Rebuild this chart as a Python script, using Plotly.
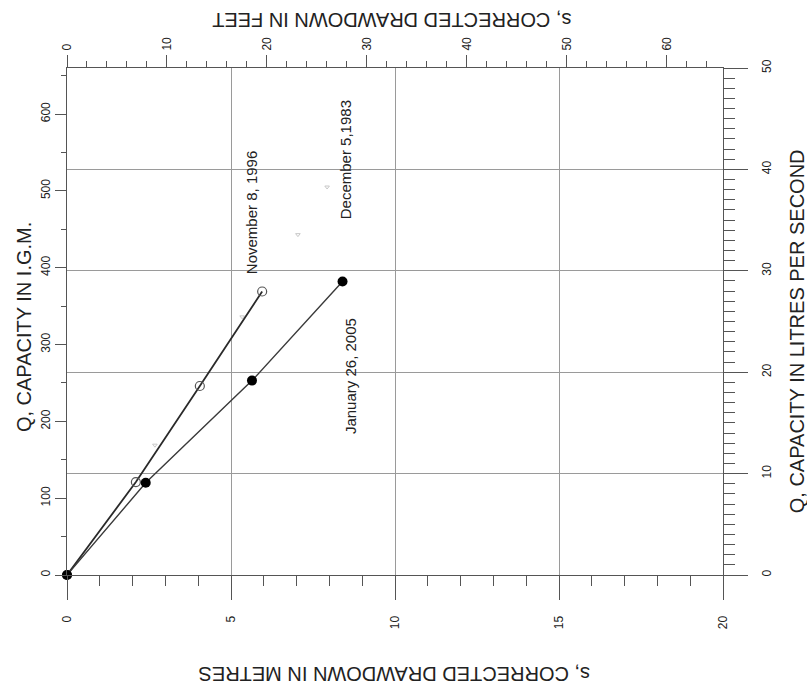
import plotly.graph_objects as go

# ---- data ----
LPS_TO_IGM = 13.1982
M_TO_FT = 3.28084

nov1996_s = [0, 2.1, 4.05, 5.95]
nov1996_q = [0, 121, 246, 369]

jan2005_s = [0, 2.4, 5.64, 8.4]
jan2005_q = [0, 120, 253, 382]

dec1983_s = [2.68, 5.34, 7.04, 7.93]
dec1983_q = [169, 336, 443, 505]

s_max_m = 20
q_max_lps = 50

x_ticks_m = [0, 5, 10, 15, 20]
x_ticks_ft = [0, 10, 20, 30, 40, 50, 60]
y_ticks_igm = [0, 100, 200, 300, 400, 500, 600]
y_ticks_lps = [0, 10, 20, 30, 40, 50]

FONT = "Liberation Sans, Arial, sans-serif"
LINE = "#555555"
GRID = "#9a9a9a"
TXT = "#222222"

fig = go.Figure()

fig.add_trace(go.Scatter(
    x=dec1983_s, y=dec1983_q, mode="markers",
    marker=dict(symbol="triangle-down-open", size=4, color="#c8c8c8", line=dict(width=1)),
    showlegend=False, hoverinfo="skip"))

fig.add_trace(go.Scatter(
    x=nov1996_s, y=nov1996_q, mode="lines+markers", cliponaxis=False,
    line=dict(color="#2a2a2a", width=1.8),
    marker=dict(symbol="circle-open", size=9, color="#555555", line=dict(width=1.2)),
    showlegend=False))

fig.add_trace(go.Scatter(
    x=jan2005_s, y=jan2005_q, mode="lines+markers", cliponaxis=False,
    line=dict(color="#3a3a3a", width=1.4),
    marker=dict(symbol="circle", size=10, color="#000000"),
    showlegend=False))

# invisible trace on the secondary (feet / L/s) axes so they render
fig.add_trace(go.Scatter(
    x=[v * M_TO_FT for v in jan2005_s], y=[v / LPS_TO_IGM for v in jan2005_q],
    xaxis="x2", yaxis="y2", mode="markers", marker=dict(opacity=0),
    showlegend=False, hoverinfo="skip"))

tickfont = dict(family=FONT, size=12, color=TXT)

fig.update_layout(
    width=807, height=692,
    margin=dict(l=67, r=84, t=68, b=117),
    paper_bgcolor="white", plot_bgcolor="white",
    font=dict(family=FONT, color=TXT),
    xaxis=dict(
        range=[0, s_max_m], tickvals=x_ticks_m, ticktext=[str(v) for v in x_ticks_m],
        ticks="outside", ticklen=24, tickcolor=LINE, tickwidth=1,
        tickangle=-90, tickfont=tickfont, ticklabelstandoff=11,
        showline=True, linecolor=LINE, linewidth=1,
        showgrid=True, gridcolor=GRID, gridwidth=1, zeroline=False,
        minor=dict(dtick=1, ticks="outside", ticklen=10, tickcolor=LINE, showgrid=False),
    ),
    xaxis2=dict(
        range=[0, s_max_m * M_TO_FT], overlaying="x", side="top",
        tickvals=x_ticks_ft, ticktext=[str(v) for v in x_ticks_ft],
        ticks="outside", ticklen=12, tickcolor=LINE, tickwidth=1,
        tickangle=-90, tickfont=tickfont, ticklabelstandoff=2,
        showline=True, linecolor=LINE, linewidth=1,
        showgrid=False, zeroline=False,
        minor=dict(dtick=2, ticks="outside", ticklen=6, tickcolor=LINE, showgrid=False),
    ),
    yaxis=dict(
        range=[0, q_max_lps * LPS_TO_IGM], tickvals=y_ticks_igm, ticktext=[str(v) for v in y_ticks_igm],
        ticks="outside", ticklen=11, tickcolor=LINE, tickwidth=1,
        tickangle=-90, tickfont=tickfont,
        showline=True, linecolor=LINE, linewidth=1,
        showgrid=False, zeroline=False,
        minor=dict(dtick=50, ticks="outside", ticklen=5, tickcolor=LINE, showgrid=False),
    ),
    yaxis2=dict(
        range=[0, q_max_lps], overlaying="y", side="right",
        tickvals=y_ticks_lps, ticktext=[str(v) for v in y_ticks_lps],
        ticks="outside", ticklen=24, tickcolor=LINE, tickwidth=1,
        tickangle=-90, tickfont=tickfont, ticklabelstandoff=9,
        showline=True, linecolor=LINE, linewidth=1,
        showgrid=True, gridcolor=GRID, gridwidth=1, zeroline=False,
        minor=dict(dtick=1, ticks="outside", ticklen=11, tickcolor=LINE, showgrid=False),
    ),
)

ann = [
    dict(text="s, CORRECTED DRAWDOWN IN METRES", x=0.5, y=-0.195, textangle=180, size=20),
    dict(text="s, CORRECTED DRAWDOWN IN FEET", x=0.495, y=1.095, textangle=180, size=20),
    dict(text="Q, CAPACITY IN I.G.M.", x=-0.0655, y=0.489, textangle=-90, size=20),
    dict(text="Q, CAPACITY IN LITRES PER SECOND", x=1.113, y=0.481, textangle=-90, size=20),
]
for a in ann:
    fig.add_annotation(text=a["text"], xref="paper", yref="paper", x=a["x"], y=a["y"],
                       xanchor="center", yanchor="middle", showarrow=False,
                       textangle=a["textangle"], font=dict(family=FONT, size=a["size"], color=TXT))

labels = [
    ("November 8, 1996", 5.61, 471),
    ("December 5,1983", 8.48, 540),
    ("January 26, 2005", 8.63, 259),
]
for t, sx, qy in labels:
    fig.add_annotation(text=t, x=sx, y=qy, xref="x", yref="y", showarrow=False,
                       xanchor="center", yanchor="middle", textangle=-90,
                       font=dict(family=FONT, size=15, color=TXT))

fig.write_html("out.html")
